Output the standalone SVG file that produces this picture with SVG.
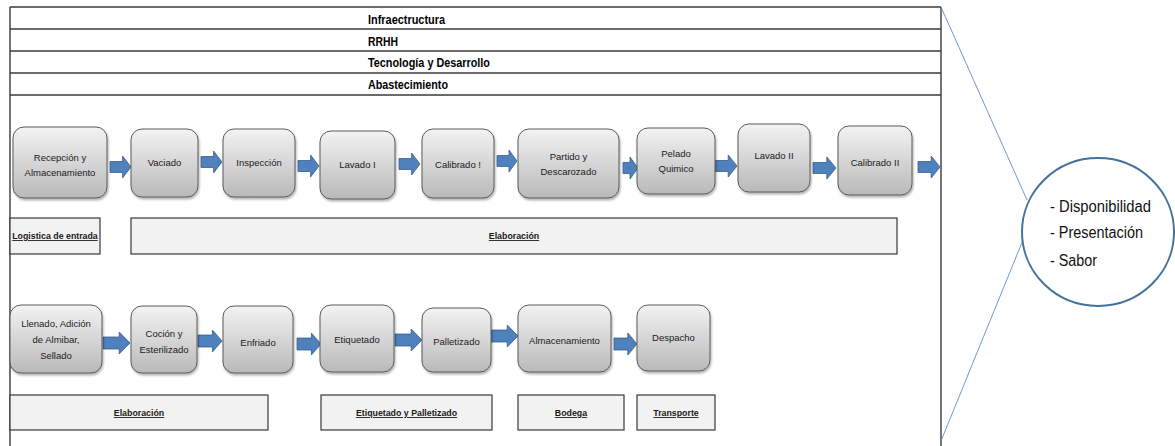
<svg xmlns="http://www.w3.org/2000/svg" width="1175" height="446" viewBox="0 0 1175 446">
  <style>
    .frame { fill: none; stroke: #3a3a3a; stroke-width: 1.4; }
    .hdr { font-family: "Liberation Sans", Arial, sans-serif; font-size: 12px; font-weight: bold; fill: #000; }
    .step { fill: url(#stepFill); stroke: #5a5a5a; stroke-width: 1; filter: url(#shade); }
    .lbl { font-family: "Liberation Sans", Arial, sans-serif; font-size: 9.5px; fill: #1a1a1a; text-anchor: middle; }
    .bar { fill: #f2f2f2; stroke: #3a3a3a; stroke-width: 1.2; }
    .barTxt { font-family: "Liberation Sans", Arial, sans-serif; font-size: 8.8px; font-weight: bold; fill: #1a1a1a; text-anchor: middle; text-decoration: underline; }
    .arrow { fill: #4f81bd; stroke: #385d8a; stroke-width: 0.8; }
    .link { stroke: #5b8fd0; stroke-width: 0.9; fill: none; }
    .bubble { fill: #fff; stroke: #41719c; stroke-width: 2; }
    .bubbleTxt { font-family: "Liberation Sans", Arial, sans-serif; font-size: 16px; fill: #111; }
  </style>
  <defs>
    <linearGradient id="stepFill" x1="0" y1="0" x2="0" y2="1">
      <stop offset="0" stop-color="#f3f3f3"/>
      <stop offset="1" stop-color="#b9b9b9"/>
    </linearGradient>
    <filter id="shade" x="-10%" y="-10%" width="130%" height="130%">
      <feDropShadow dx="1" dy="2" stdDeviation="1.2" flood-color="#000" flood-opacity="0.3"/>
    </filter>
  </defs>

  <rect x="0" y="0" width="1175" height="446" fill="#fff"/>

  <!-- support activities frame -->
  <g id="frame">
    <line class="frame" x1="10" y1="7" x2="941" y2="7"/>
    <line class="frame" x1="10" y1="29" x2="941" y2="29"/>
    <line class="frame" x1="10" y1="51" x2="941" y2="51"/>
    <line class="frame" x1="10" y1="73" x2="941" y2="73"/>
    <line class="frame" x1="10" y1="95" x2="941" y2="95"/>
    <line class="frame" x1="10" y1="7" x2="10" y2="446"/>
    <line class="frame" x1="941" y1="7" x2="941" y2="446"/>
  </g>
  <g id="support">
    <text class="hdr" x="368" y="24" textLength="77" lengthAdjust="spacingAndGlyphs">Infraectructura</text>
    <text class="hdr" x="368" y="46" textLength="30" lengthAdjust="spacingAndGlyphs">RRHH</text>
    <text class="hdr" x="368" y="67" textLength="122" lengthAdjust="spacingAndGlyphs">Tecnología y Desarrollo</text>
    <text class="hdr" x="368" y="89" textLength="80" lengthAdjust="spacingAndGlyphs">Abastecimiento</text>
  </g>

  <!-- connectors: block arrows and the links to the value bubble -->
  <g id="connectors">
    <path class="arrow" d="M110,161.5 H122.6 V156 L131,167 L122.6,178 V172.5 H110 Z"/>
    <path class="arrow" d="M201,156.5 H213.6 V151 L222,162 L213.6,173 V167.5 H201 Z"/>
    <path class="arrow" d="M298,160.5 H310.6 V155 L319,166 L310.6,177 V171.5 H298 Z"/>
    <path class="arrow" d="M399,158.5 H411.6 V153 L420,164 L411.6,175 V169.5 H399 Z"/>
    <path class="arrow" d="M497,155.5 H509 V150 L517,161 L509,172 V166.5 H497 Z"/>
    <path class="arrow" d="M623,162.5 H630 V157 L638,168 L630,179 V173.5 H623 Z"/>
    <path class="arrow" d="M715,160.5 H728.2 V155 L737,166 L728.2,177 V171.5 H715 Z"/>
    <path class="arrow" d="M813,162.5 H826.8 V157 L836,168 L826.8,179 V173.5 H813 Z"/>
    <path class="arrow" d="M918,161.5 H931.2 V156 L940,167 L931.2,178 V172.5 H918 Z"/>

    <path class="arrow" d="M103,337 H119.2 V332 L130,343 L119.2,354 V349 H103 Z"/>
    <path class="arrow" d="M198,335 H212.4 V330 L222,341 L212.4,352 V347 H198 Z"/>
    <path class="arrow" d="M297,338 H311.4 V333 L321,344 L311.4,355 V350 H297 Z"/>
    <path class="arrow" d="M395,334 H411.2 V329 L422,340 L411.2,351 V346 H395 Z"/>
    <path class="arrow" d="M491,330 H507.2 V325 L518,336 L507.2,347 V342 H491 Z"/>
    <path class="arrow" d="M614,338 H627.8 V333 L637,344 L627.8,355 V350 H614 Z"/>

    <line class="link" x1="941" y1="7" x2="1027" y2="200"/>
    <line class="link" x1="941" y1="441" x2="1023" y2="240"/>
  </g>

  <!-- primary activities, first row -->
  <g id="recepcion">
    <rect class="step" x="13" y="127" width="94" height="71" rx="11"/>
    <text class="lbl" x="60" y="161">Recepción y</text>
    <text class="lbl" x="60" y="176">Almacenamiento</text>
  </g>
  <g id="vaciado">
    <rect class="step" x="131" y="129" width="67" height="68" rx="11"/>
    <text class="lbl" x="164.5" y="166">Vaciado</text>
  </g>
  <g id="inspeccion">
    <rect class="step" x="223" y="129" width="72" height="68" rx="11"/>
    <text class="lbl" x="259" y="166">Inspección</text>
  </g>
  <g id="lavado-1">
    <rect class="step" x="320" y="131" width="75" height="68" rx="11"/>
    <text class="lbl" x="357.5" y="168">Lavado I</text>
  </g>
  <g id="calibrado-1">
    <rect class="step" x="422" y="129" width="72" height="69" rx="11"/>
    <text class="lbl" x="458" y="168">Calibrado !</text>
  </g>
  <g id="partido">
    <rect class="step" x="518" y="129" width="101" height="69" rx="11"/>
    <text class="lbl" x="568.5" y="160">Partido y</text>
    <text class="lbl" x="568.5" y="175">Descarozado</text>
  </g>
  <g id="pelado">
    <rect class="step" x="637" y="128" width="78" height="66" rx="11"/>
    <text class="lbl" x="676" y="157">Pelado</text>
    <text class="lbl" x="676" y="172">Quimico</text>
  </g>
  <g id="lavado-2">
    <rect class="step" x="738" y="124" width="72" height="68" rx="11"/>
    <text class="lbl" x="774" y="159">Lavado II</text>
  </g>
  <g id="calibrado-2">
    <rect class="step" x="838" y="126" width="74" height="69" rx="11"/>
    <text class="lbl" x="875" y="166">Calibrado II</text>
  </g>

  <!-- stage bars, first row -->
  <g id="bar-logistica">
    <rect class="bar" x="10" y="218" width="90" height="36"/>
    <text class="barTxt" x="55" y="239">Logistica de entrada</text>
  </g>
  <g id="bar-elaboracion-1">
    <rect class="bar" x="131" y="218" width="766" height="36"/>
    <text class="barTxt" x="514" y="239">Elaboración</text>
  </g>

  <!-- primary activities, second row -->
  <g id="llenado">
    <rect class="step" x="10" y="305" width="92" height="68" rx="11"/>
    <text class="lbl" x="56" y="327">Llenado, Adición</text>
    <text class="lbl" x="56" y="343">de Almibar,</text>
    <text class="lbl" x="56" y="359">Sellado</text>
  </g>
  <g id="cocion">
    <rect class="step" x="131" y="306" width="66" height="67" rx="11"/>
    <text class="lbl" x="164" y="337">Coción y</text>
    <text class="lbl" x="164" y="353">Esterilizado</text>
  </g>
  <g id="enfriado">
    <rect class="step" x="223" y="306" width="70" height="67" rx="11"/>
    <text class="lbl" x="258" y="346">Enfriado</text>
  </g>
  <g id="etiquetado">
    <rect class="step" x="320" y="305" width="74" height="67" rx="11"/>
    <text class="lbl" x="357" y="343">Etiquetado</text>
  </g>
  <g id="palletizado">
    <rect class="step" x="422" y="308" width="69" height="64" rx="11"/>
    <text class="lbl" x="456.5" y="345">Palletizado</text>
  </g>
  <g id="almacenamiento">
    <rect class="step" x="518" y="305" width="93" height="67" rx="11"/>
    <text class="lbl" x="564.5" y="344">Almacenamiento</text>
  </g>
  <g id="despacho">
    <rect class="step" x="637" y="305" width="73" height="66" rx="11"/>
    <text class="lbl" x="673.5" y="341">Despacho</text>
  </g>

  <!-- stage bars, second row -->
  <g id="bar-elaboracion-2">
    <rect class="bar" x="10" y="395" width="258" height="35"/>
    <text class="barTxt" x="139" y="416">Elaboración</text>
  </g>
  <g id="bar-etiquetado">
    <rect class="bar" x="321" y="395" width="171" height="35"/>
    <text class="barTxt" x="406.5" y="416">Etiquetado y Palletizado</text>
  </g>
  <g id="bar-bodega">
    <rect class="bar" x="518" y="395" width="106" height="35"/>
    <text class="barTxt" x="571" y="416">Bodega</text>
  </g>
  <g id="bar-transporte">
    <rect class="bar" x="637" y="395" width="78" height="35"/>
    <text class="barTxt" x="676" y="416">Transporte</text>
  </g>

  <!-- value bubble -->
  <g id="valor">
    <ellipse class="bubble" cx="1098" cy="232" rx="76" ry="74"/>
    <text class="bubbleTxt" x="1050" y="212" textLength="101" lengthAdjust="spacingAndGlyphs">- Disponibilidad</text>
    <text class="bubbleTxt" x="1050" y="238" textLength="93" lengthAdjust="spacingAndGlyphs">- Presentación</text>
    <text class="bubbleTxt" x="1050" y="266" textLength="47" lengthAdjust="spacingAndGlyphs">- Sabor</text>
  </g>
</svg>
